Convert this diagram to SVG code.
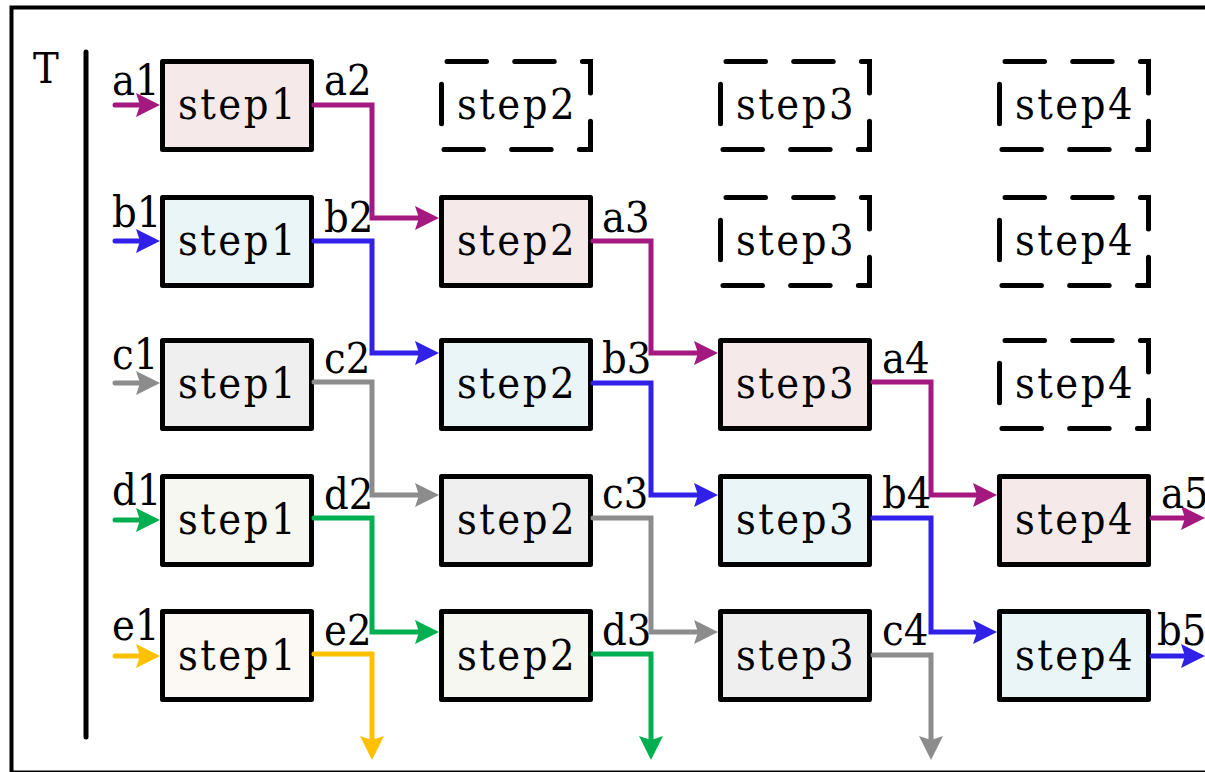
<svg xmlns="http://www.w3.org/2000/svg" width="1205" height="772" viewBox="0 0 1205 772">
<style>
.box{stroke:#000;stroke-width:5;stroke-linejoin:round}
.dash{fill:none;stroke:#000;stroke-width:5;stroke-dasharray:39.5 28.21;stroke-dashoffset:-5.5;stroke-linecap:round}
.t{font-family:"DejaVu Serif Condensed","DejaVu Serif","Liberation Serif",serif;font-stretch:condensed;font-size:43px;fill:#000}
.st{text-anchor:middle;letter-spacing:2.5px}
.c{fill:none;stroke-width:5;stroke-linecap:round;stroke-linejoin:miter}
.pu{stroke:#A3197F}.bl{stroke:#3120E8}.gr{stroke:#8C8C8C}.gn{stroke:#00B050}.ye{stroke:#FFC000}
.fpu{fill:#F5EAE9}.fbl{fill:#EAF5F7}.fgr{fill:#EFEFEF}.fgn{fill:#F5F7F0}.fye{fill:#FCF8F4}
</style>
<defs>
<marker id="mpu" markerUnits="userSpaceOnUse" orient="auto" overflow="visible" refX="0" refY="0" markerWidth="30" markerHeight="30"><path d="M-14,-12 L10,0 L-14,12 L-10,0 Z" fill="#A3197F"/></marker>
<marker id="mbl" markerUnits="userSpaceOnUse" orient="auto" overflow="visible" refX="0" refY="0" markerWidth="30" markerHeight="30"><path d="M-14,-12 L10,0 L-14,12 L-10,0 Z" fill="#3120E8"/></marker>
<marker id="mgr" markerUnits="userSpaceOnUse" orient="auto" overflow="visible" refX="0" refY="0" markerWidth="30" markerHeight="30"><path d="M-14,-12 L10,0 L-14,12 L-10,0 Z" fill="#8C8C8C"/></marker>
<marker id="mgn" markerUnits="userSpaceOnUse" orient="auto" overflow="visible" refX="0" refY="0" markerWidth="30" markerHeight="30"><path d="M-14,-12 L10,0 L-14,12 L-10,0 Z" fill="#00B050"/></marker>
<marker id="mye" markerUnits="userSpaceOnUse" orient="auto" overflow="visible" refX="0" refY="0" markerWidth="30" markerHeight="30"><path d="M-14,-12 L10,0 L-14,12 L-10,0 Z" fill="#FFC000"/></marker>
</defs>
<rect x="0" y="0" width="1205" height="772" fill="#fff"/>
<rect x="11.5" y="7.5" width="1210" height="765" fill="none" stroke="#000" stroke-width="4"/>
<g id="axis">
<text class="t" x="33" y="83" font-size="46">T</text>
<line x1="86" y1="52" x2="86" y2="737" stroke="#000" stroke-width="5" stroke-linecap="round"/>
</g>
<!-- column 1 -->
<g id="a-step1"><rect class="box fpu" x="162.5" y="61.5" width="149" height="88"/><text class="t st" x="238" y="119">step1</text></g>
<g id="b-step1"><rect class="box fbl" x="162.5" y="197.5" width="149" height="88"/><text class="t st" x="238" y="255">step1</text></g>
<g id="c-step1"><rect class="box fgr" x="162.5" y="340.5" width="149" height="88"/><text class="t st" x="238" y="398">step1</text></g>
<g id="d-step1"><rect class="box fgn" x="162.5" y="476.5" width="149" height="88"/><text class="t st" x="238" y="534">step1</text></g>
<g id="e-step1"><rect class="box fye" x="162.5" y="611.5" width="149" height="88"/><text class="t st" x="238" y="670">step1</text></g>
<!-- column 2 -->
<g id="empty-r1-step2"><rect class="dash" x="441.5" y="61.5" width="149" height="88"/><text class="t st" x="517" y="119">step2</text></g>
<g id="a-step2"><rect class="box fpu" x="441.5" y="197.5" width="149" height="88"/><text class="t st" x="517" y="255">step2</text></g>
<g id="b-step2"><rect class="box fbl" x="441.5" y="340.5" width="149" height="88"/><text class="t st" x="517" y="398">step2</text></g>
<g id="c-step2"><rect class="box fgr" x="441.5" y="476.5" width="149" height="88"/><text class="t st" x="517" y="534">step2</text></g>
<g id="d-step2"><rect class="box fgn" x="441.5" y="611.5" width="149" height="88"/><text class="t st" x="517" y="670">step2</text></g>
<!-- column 3 -->
<g id="empty-r1-step3"><rect class="dash" x="720.5" y="61.5" width="149" height="88"/><text class="t st" x="796" y="119">step3</text></g>
<g id="empty-r2-step3"><rect class="dash" x="720.5" y="197.5" width="149" height="88"/><text class="t st" x="796" y="255">step3</text></g>
<g id="a-step3"><rect class="box fpu" x="720.5" y="340.5" width="149" height="88"/><text class="t st" x="796" y="398">step3</text></g>
<g id="b-step3"><rect class="box fbl" x="720.5" y="476.5" width="149" height="88"/><text class="t st" x="796" y="534">step3</text></g>
<g id="c-step3"><rect class="box fgr" x="720.5" y="611.5" width="149" height="88"/><text class="t st" x="796" y="670">step3</text></g>
<!-- column 4 -->
<g id="empty-r1-step4"><rect class="dash" x="999.5" y="61.5" width="149" height="88"/><text class="t st" x="1075" y="119">step4</text></g>
<g id="empty-r2-step4"><rect class="dash" x="999.5" y="197.5" width="149" height="88"/><text class="t st" x="1075" y="255">step4</text></g>
<g id="empty-r3-step4"><rect class="dash" x="999.5" y="340.5" width="149" height="88"/><text class="t st" x="1075" y="398">step4</text></g>
<g id="a-step4"><rect class="box fpu" x="999.5" y="476.5" width="149" height="88"/><text class="t st" x="1075" y="534">step4</text></g>
<g id="b-step4"><rect class="box fbl" x="999.5" y="611.5" width="149" height="88"/><text class="t st" x="1075" y="670">step4</text></g>
<g id="connectors">
<path class="c pu" d="M115,105 H150" marker-end="url(#mpu)"/>
<path class="c bl" d="M115,241 H150" marker-end="url(#mbl)"/>
<path class="c gr" d="M115,383 H150" marker-end="url(#mgr)"/>
<path class="c gn" d="M115,520 H150" marker-end="url(#mgn)"/>
<path class="c ye" d="M115,656 H150" marker-end="url(#mye)"/>
<path class="c pu" d="M314,105 H372 V218 H429" marker-end="url(#mpu)"/>
<path class="c bl" d="M314,241 H372 V353 H429" marker-end="url(#mbl)"/>
<path class="c gr" d="M314,382 H372 V495 H429" marker-end="url(#mgr)"/>
<path class="c gn" d="M314,518 H372 V632 H429" marker-end="url(#mgn)"/>
<path class="c ye" d="M314,654 H372 V750" marker-end="url(#mye)"/>
<path class="c pu" d="M593,241 H651 V353 H708" marker-end="url(#mpu)"/>
<path class="c bl" d="M593,383 H651 V495 H708" marker-end="url(#mbl)"/>
<path class="c gr" d="M593,518 H651 V632 H708" marker-end="url(#mgr)"/>
<path class="c gn" d="M593,654 H651 V750" marker-end="url(#mgn)"/>
<path class="c pu" d="M873,382 H931 V495 H987" marker-end="url(#mpu)"/>
<path class="c bl" d="M873,518 H931 V632 H987" marker-end="url(#mbl)"/>
<path class="c gr" d="M873,655 H931 V750" marker-end="url(#mgr)"/>
<path class="c pu" d="M1152,518 H1195" marker-end="url(#mpu)"/>
<path class="c bl" d="M1152,656 H1195" marker-end="url(#mbl)"/>
<g id="labels">
<text class="t" x="112" y="95">a1</text>
<text class="t" x="112" y="227">b1</text>
<text class="t" x="112" y="369">c1</text>
<text class="t" x="112" y="505">d1</text>
<text class="t" x="112" y="640">e1</text>
<text class="t" x="324" y="95">a2</text>
<text class="t" x="324" y="232">b2</text>
<text class="t" x="324" y="373">c2</text>
<text class="t" x="324" y="509">d2</text>
<text class="t" x="324" y="645">e2</text>
<text class="t" x="602" y="232">a3</text>
<text class="t" x="602" y="373">b3</text>
<text class="t" x="602" y="508">c3</text>
<text class="t" x="602" y="645">d3</text>
<text class="t" x="882" y="373">a4</text>
<text class="t" x="882" y="508">b4</text>
<text class="t" x="882" y="645">c4</text>
<text class="t" x="1161" y="508">a5</text>
<text class="t" x="1157" y="645">b5</text>
</g>
</g>
</svg>
